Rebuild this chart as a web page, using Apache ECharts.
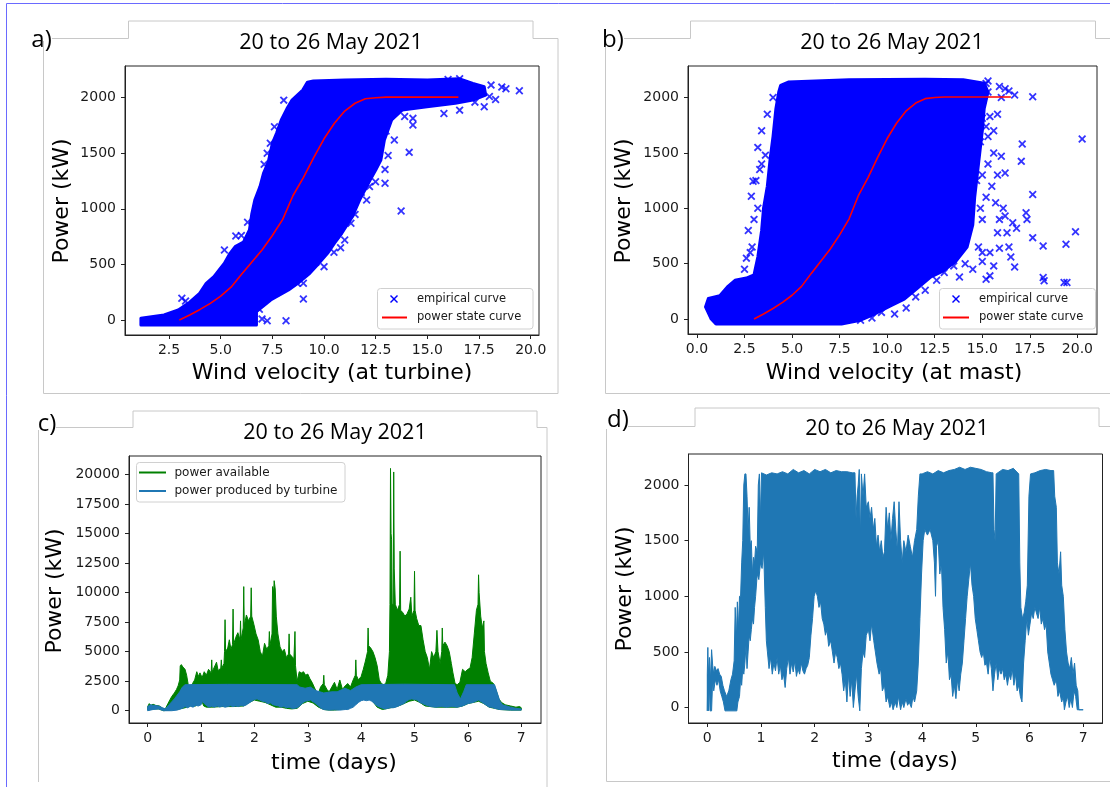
<!DOCTYPE html>
<html>
<head>
<meta charset="utf-8">
<script src="https://cdn.jsdelivr.net/npm/echarts@6/dist/echarts.min.js"></script>
<style>
  html, body { margin: 0; padding: 0; background: #fff; }
  #chart { width: 1110px; height: 787px; }
</style>
</head>
<body>
<div id="chart"></div>
<script>
// ---- panel titles / tick labels ----
const panelTitle = '20 to 26 May 2021';
const panelLetters = ['a)', 'b)', 'c)', 'd)'];
const windTicks = [2.5, 5.0, 7.5, 10.0, 12.5, 15.0, 17.5, 20.0];
const mastTicks = [0.0, 2.5, 5.0, 7.5, 10.0, 12.5, 15.0, 17.5, 20.0];
const powerTicks = [0, 500, 1000, 1500, 2000];
const dayTicks = [0, 1, 2, 3, 4, 5, 6, 7];
const availTicks = [0, 2500, 5000, 7500, 10000, 12500, 15000, 17500, 20000];

// ---- a) empirical cloud outline at turbine [wind m/s, kW] ----
const cloudTurbine = [
  [1.14, 15], [2.26, 45], [2.95, 90], [3.5, 160], [3.98, 240], [4.3, 330], [4.67, 390], [5.18, 510],
  [5.45, 600], [5.7, 660], [6.1, 700], [6.39, 810], [6.5, 950], [6.65, 1079], [6.9, 1200],
  [7.07, 1319], [7.3, 1420], [7.5, 1589], [7.7, 1680], [7.93, 1799], [8.2, 1900], [8.45, 1978],
  [8.97, 2068], [9.2, 2140], [9.48, 2150], [11, 2160], [13, 2165], [15, 2160], [16.53, 2170],
  [17.2, 2128], [17.75, 2098], [17.82, 2023], [17.2, 1978], [16.35, 1949], [14.98, 1918],
  [13.78, 1888], [13.27, 1799], [12.92, 1619], [12.75, 1439], [12.5, 1350], [12.23, 1259],
  [11.72, 1079], [11.37, 929], [10.86, 780], [10.5, 690], [10.17, 600], [9.7, 500], [9.31, 420],
  [8.8, 340], [8.28, 270], [7.42, 180], [6.73, 75], [6.73, -45], [1.14, -45]
];
// isolated samples around the turbine cloud
const scatterTurbine = [
  [13.73, 980], [14.12, 1508], [12.95, 1355], [12.95, 1230], [12.49, 1244], [12.06, 1079],
  [14.3, 1814], [14.3, 1754], [10.0, 480], [10.48, 609], [9.0, 189], [9.0, 330], [9.1, 435],
  [8.16, -6], [7.25, -6], [7.0, 10], [6.87, 96], [3.12, 195], [3.3, 170], [5.18, 630],
  [5.73, 755], [18.08, 2113], [18.6, 2095], [18.8, 2080], [19.45, 2062], [18.3, 1984],
  [17.75, 1918], [15.8, 1858], [16.56, 1888], [16.0, 2164], [16.56, 2170], [8.05, 1978],
  [7.6, 1738], [7.4, 1590], [11.5, 950], [11.3, 870], [11.0, 720], [10.8, 650], [11.8, 1150],
  [12.2, 1200], [13.1, 1480], [13.4, 1620], [13.0, 1700], [12.8, 1740], [6.3, 880], [6.0, 760],
  [7.1, 1400], [7.25, 1500], [9.6, 520], [8.7, 330], [13.9, 1830], [17.3, 1960], [18.0, 2010]
];

// ---- b) empirical cloud outline at mast ----
const cloudMast = [
  [0.45, 110], [0.6, 185], [1.2, 210], [1.6, 290], [2.0, 350], [2.6, 370], [3.0, 400], [3.2, 560],
  [3.4, 800], [3.5, 1000], [3.7, 1200], [3.85, 1450], [4.0, 1650], [4.15, 1900], [4.3, 2050],
  [4.4, 2110], [4.8, 2140], [8, 2160], [12, 2165], [14, 2160], [15.1, 2130], [15.3, 2050],
  [15.1, 1900], [15.0, 1700], [14.8, 1400], [14.6, 1100], [14.5, 850], [14.2, 650], [13.6, 520],
  [12.9, 430], [12.3, 380], [11.6, 280], [10.9, 180], [10.2, 120], [9.4, 50], [8.6, -10],
  [7.6, -45], [1.0, -45], [0.75, 0]
];
const scatterMast = [
  [3.2, 1550], [2.95, 1244], [2.86, 1109], [3.1, 1250], [3.4, 1400], [3.6, 1480], [3.3, 1350],
  [2.8, 600], [2.6, 550], [2.9, 650], [20.25, 1625], [19.9, 789], [19.4, 675], [17.65, 1124],
  [17.1, 1580], [17.05, 1424], [16.7, 470], [16.5, 560], [17.65, 2008], [16.7, 2023],
  [18.2, 660], [17.65, 735], [18.2, 375], [18.25, 345], [19.3, 330], [19.45, 330], [17.3, 960],
  [17.35, 900], [16.2, 1319], [16.0, 1470], [16.2, 930], [15.8, 780], [16.3, 780], [15.4, 600],
  [15.6, 480], [15.4, 390], [15.0, 600], [15.2, 360], [15.2, 2128], [15.3, 2150], [16.2, 2080],
  [15.3, 2050], [14.67, 1888], [15.0, 1813], [15.4, 1828], [15.2, 1738], [14.6, 1750],
  [15.3, 1648], [15.6, 1500], [15.8, 1300], [15.5, 1200], [15.7, 1050], [15.9, 900],
  [16.1, 1000], [16.6, 870], [16.8, 820], [16.4, 650], [15.9, 640], [15.0, 900], [15.2, 1100],
  [15.0, 1300], [15.3, 1400], [15.6, 1700], [15.8, 1850], [16.0, 2000], [16.4, 2060],
  [15.9, 2100], [10.39, 45], [11.0, 100], [11.5, 200], [12.0, 260], [12.6, 350], [13.0, 420],
  [13.5, 480], [14.1, 500], [14.5, 450], [15.0, 520], [14.8, 650], [13.8, 380], [9.2, 10],
  [9.7, 60], [8.6, -10], [3.0, 900], [3.2, 1000], [2.7, 800], [3.4, 1700], [3.7, 1850],
  [4.0, 2000], [2.5, 450], [14.9, 1000], [14.7, 1250], [14.9, 1600]
];

// ---- power state curve [wind m/s, kW] ----
const stateCurve = [
  [3.0, 0], [3.5, 45], [4.0, 95], [4.5, 150], [5.0, 215], [5.5, 295], [6.0, 410], [6.5, 520],
  [7.0, 630], [7.5, 760], [8.0, 905], [8.5, 1120], [9.0, 1280], [9.5, 1460], [10.0, 1630],
  [10.5, 1770], [11.0, 1880], [11.5, 1950], [12.0, 1990], [12.5, 2000], [13.0, 2005], [16.5, 2005]
];

// ---- c) power available (green) envelope [day, kW] ----
const availTop = [
  [0, 350], [0.03, 600], [0.06, 450], [0.1, 550], [0.15, 450], [0.22, 400], [0.28, 200], [0.33, 150],
  [0.38, 600], [0.45, 1200], [0.5, 1500], [0.54, 1800], [0.57, 2100], [0.6, 2600], [0.61, 3800],
  [0.63, 3900], [0.66, 3700], [0.7, 3500], [0.73, 3000], [0.76, 2200], [0.8, 2000], [0.84, 2300],
  [0.88, 2600], [0.92, 3300], [0.95, 2900], [0.98, 3200], [1.02, 2800], [1.06, 3300], [1.1, 3000],
  [1.14, 3500], [1.19, 3200], [1.2, 4300], [1.21, 3300], [1.25, 3700], [1.29, 4100], [1.32, 3400],
  [1.37, 3600], [1.38, 4300], [1.39, 3600], [1.43, 4000], [1.44, 5000], [1.45, 7700], [1.46, 5000],
  [1.5, 5300], [1.53, 6000], [1.56, 5200], [1.59, 5600], [1.6, 8600], [1.61, 5600], [1.65, 6200],
  [1.69, 6600], [1.73, 6000], [1.74, 7600], [1.75, 6000], [1.79, 7000], [1.8, 10500], [1.81, 7200],
  [1.85, 8100], [1.89, 7600], [1.93, 8000], [1.94, 10400], [1.95, 8000], [1.99, 7300], [2.03, 6500],
  [2.07, 6000], [2.11, 5000], [2.15, 4600], [2.19, 5700], [2.23, 5200], [2.27, 5500], [2.28, 6700],
  [2.29, 5500], [2.33, 6500], [2.34, 10500], [2.36, 10000], [2.37, 11000], [2.39, 10300],
  [2.41, 8000], [2.44, 6500], [2.48, 5400], [2.52, 5000], [2.56, 5200], [2.6, 4500], [2.64, 4800],
  [2.65, 6500], [2.66, 4800], [2.7, 4600], [2.74, 4400], [2.76, 6700], [2.77, 3800], [2.8, 2500],
  [2.84, 3300], [2.88, 3200], [2.92, 3300], [2.96, 3000], [3.0, 3100], [3.04, 2700], [3.08, 2400],
  [3.12, 2000], [3.16, 1600], [3.2, 1500], [3.24, 2000], [3.29, 2300], [3.3, 3000], [3.31, 2200],
  [3.36, 1800], [3.4, 1600], [3.45, 2000], [3.5, 2400], [3.55, 1800], [3.6, 2600], [3.65, 1800],
  [3.7, 2100], [3.75, 2300], [3.8, 2000], [3.85, 2600], [3.89, 3000], [3.9, 4300], [3.91, 3000],
  [3.95, 2600], [4.0, 2900], [4.04, 3500], [4.08, 4200], [4.12, 5000], [4.13, 7000], [4.14, 5500],
  [4.18, 5300], [4.22, 5000], [4.26, 4500], [4.3, 3800], [4.34, 2600], [4.38, 2300], [4.42, 2200],
  [4.46, 2300], [4.5, 3000], [4.53, 5000], [4.54, 9000], [4.55, 20500], [4.56, 15000],
  [4.57, 14500], [4.58, 9000], [4.6, 9000], [4.61, 20200], [4.62, 12000], [4.64, 9000],
  [4.68, 8500], [4.72, 9000], [4.73, 13500], [4.74, 8500], [4.78, 8300], [4.82, 8000],
  [4.86, 8200], [4.9, 8600], [4.93, 9600], [4.95, 8000], [4.99, 8500], [5.0, 11800], [5.01, 8500],
  [5.04, 7800], [5.08, 7200], [5.12, 7200], [5.16, 6000], [5.2, 5000], [5.24, 4500], [5.28, 3500],
  [5.32, 5000], [5.36, 4500], [5.4, 5000], [5.42, 6800], [5.44, 5000], [5.48, 4000], [5.51, 5000],
  [5.52, 7000], [5.53, 5500], [5.57, 5800], [5.61, 5500], [5.65, 5000], [5.69, 4000], [5.72, 3200],
  [5.76, 2300], [5.8, 2200], [5.85, 2400], [5.9, 3500], [5.95, 3300], [6.0, 3500], [6.04, 3600],
  [6.08, 4500], [6.12, 6500], [6.16, 8500], [6.19, 9000], [6.2, 11500], [6.21, 10000], [6.24, 8000],
  [6.27, 7000], [6.3, 7600], [6.31, 5000], [6.34, 4000], [6.38, 3200], [6.42, 2500], [6.48, 2300],
  [6.53, 1700], [6.58, 1000], [6.63, 700], [6.7, 500], [6.8, 400], [6.9, 300], [6.97, 350], [7.0, 250]
];
const availBottom = [
  [0, 50], [0.1, 150], [0.2, 150], [0.3, 0], [0.4, 50], [0.5, 100], [0.6, 150], [0.7, 250],
  [0.8, 400], [0.9, 400], [0.95, 600], [1.0, 1000], [1.05, 400], [1.1, 300], [1.2, 300],
  [1.4, 350], [1.6, 350], [1.8, 400], [1.9, 700], [2.0, 900], [2.1, 800], [2.2, 700], [2.3, 500],
  [2.4, 300], [2.5, 300], [2.6, 200], [2.7, 150], [2.8, 200], [2.9, 600], [3.0, 800], [3.1, 650],
  [3.2, 300], [3.3, 100], [3.4, 50], [3.5, 50], [3.6, 100], [3.7, 200], [3.8, 400], [3.9, 1000],
  [4.0, 1200], [4.1, 1100], [4.2, 900], [4.3, 300], [4.4, 100], [4.5, 200], [4.6, 300],
  [4.7, 400], [4.8, 600], [4.9, 800], [5.0, 900], [5.1, 700], [5.2, 400], [5.4, 300], [5.6, 300],
  [5.8, 300], [5.9, 400], [6.0, 600], [6.1, 700], [6.2, 800], [6.3, 600], [6.4, 300], [6.5, 200],
  [6.6, 100], [6.8, 50], [7.0, 50]
];
// ---- c) power produced (blue) envelope ----
const producedTop = [
  [0, 350], [0.05, 500], [0.12, 450], [0.2, 400], [0.28, 250], [0.33, 150], [0.4, 500], [0.5, 1000],
  [0.6, 1600], [0.65, 2000], [0.7, 2200], [1.5, 2230], [2.8, 2200], [2.85, 2000], [2.95, 1900],
  [3.05, 2000], [3.15, 1700], [3.3, 1500], [3.45, 1600], [3.55, 1600], [3.7, 1900], [3.8, 1700],
  [3.9, 2000], [4.0, 2200], [4.8, 2240], [5.75, 2200], [5.8, 1500], [5.86, 1000], [5.92, 1600],
  [5.97, 2200], [6.5, 2200], [6.55, 1500], [6.6, 800], [6.65, 500], [6.8, 300], [6.9, 200], [7.0, 150]
];
const producedBottom = [
  [0, 0], [0.1, 100], [0.2, 150], [0.3, 0], [0.45, 0], [0.55, 50], [0.65, 200], [0.7, 350],
  [0.75, 250], [0.8, 380], [0.85, 300], [0.9, 450], [0.95, 400], [1.0, 500], [1.03, 800],
  [1.06, 600], [1.1, 450], [1.15, 300], [1.2, 380], [1.25, 300], [1.3, 400], [1.35, 320],
  [1.4, 380], [1.45, 300], [1.5, 350], [1.55, 420], [1.6, 350], [1.65, 400], [1.7, 350],
  [1.75, 450], [1.8, 400], [1.85, 500], [1.9, 650], [1.95, 800], [2.0, 950], [2.05, 1000],
  [2.1, 900], [2.15, 800], [2.2, 750], [2.25, 600], [2.3, 650], [2.35, 500], [2.4, 450],
  [2.45, 400], [2.5, 300], [2.55, 350], [2.6, 250], [2.65, 300], [2.7, 200], [2.75, 200],
  [2.8, 250], [2.85, 400], [2.9, 650], [2.95, 800], [3.0, 850], [3.05, 900], [3.1, 750],
  [3.15, 600], [3.2, 400], [3.25, 200], [3.3, 100], [3.4, 50], [3.5, 80], [3.6, 50], [3.7, 100],
  [3.75, 100], [3.8, 200], [3.85, 300], [3.9, 500], [3.95, 700], [4.0, 850], [4.05, 900],
  [4.1, 850], [4.15, 900], [4.2, 800], [4.25, 600], [4.3, 400], [4.35, 300], [4.4, 200],
  [4.45, 150], [4.5, 200], [4.55, 250], [4.6, 250], [4.65, 300], [4.7, 400], [4.75, 500],
  [4.8, 600], [4.85, 800], [4.9, 950], [4.95, 1000], [5.0, 950], [5.05, 900], [5.1, 700],
  [5.15, 600], [5.2, 500], [5.3, 350], [5.4, 300], [5.5, 350], [5.6, 300], [5.7, 350], [5.8, 300],
  [5.85, 350], [5.9, 400], [5.95, 500], [6.0, 600], [6.05, 650], [6.1, 700], [6.15, 800],
  [6.2, 900], [6.25, 750], [6.3, 600], [6.35, 450], [6.4, 300], [6.45, 300], [6.5, 200],
  [6.6, 100], [6.7, 80], [6.8, 50], [7.0, 50]
];

// ---- d) turbine output envelope [day, kW] ----
const outputTop = [
  [0, 300], [0.01, 540], [0.02, 300], [0.04, 450], [0.06, 250], [0.08, 520], [0.1, 380], [0.12, 300],
  [0.14, 370], [0.17, 330], [0.2, 350], [0.23, 300], [0.26, 280], [0.29, 200], [0.32, 150],
  [0.36, 100], [0.4, 150], [0.44, 250], [0.47, 300], [0.5, 420], [0.52, 900], [0.54, 600],
  [0.56, 950], [0.58, 700], [0.6, 1000], [0.62, 1000], [0.64, 1300], [0.66, 1500], [0.68, 2000],
  [0.7, 2100], [0.72, 2100], [0.74, 1900], [0.76, 1600], [0.78, 1800], [0.8, 1450], [0.82, 1500],
  [0.84, 1200], [0.86, 1350], [0.88, 1300], [0.9, 1450], [0.93, 1400], [0.95, 2000], [0.97, 2100],
  [0.99, 1700], [1.01, 2110], [1.1, 2090], [1.2, 2110], [1.3, 2100], [1.4, 2120], [1.5, 2100],
  [1.6, 2140], [1.7, 2110], [1.8, 2130], [1.9, 2100], [2.0, 2140], [2.1, 2120], [2.2, 2140],
  [2.3, 2110], [2.4, 2130], [2.5, 2120], [2.6, 2120], [2.7, 2110], [2.75, 2110], [2.77, 1700],
  [2.79, 1900], [2.81, 2000], [2.83, 2140], [2.85, 1500], [2.87, 2100], [2.9, 1900], [2.93, 2100],
  [2.96, 1800], [3.0, 1850], [3.03, 1700], [3.06, 1800], [3.09, 1600], [3.12, 1700], [3.15, 1450],
  [3.18, 1550], [3.21, 1400], [3.24, 1500], [3.27, 1350], [3.3, 1400], [3.33, 1800], [3.36, 1600],
  [3.39, 1750], [3.42, 1500], [3.45, 1700], [3.48, 1850], [3.51, 1600], [3.54, 1400], [3.57, 1850],
  [3.6, 1500], [3.63, 1300], [3.66, 1500], [3.7, 1400], [3.74, 1550], [3.78, 1450], [3.82, 1350],
  [3.86, 1500], [3.9, 1600], [3.93, 1900], [3.96, 2100], [4.0, 2100], [4.1, 2120], [4.2, 2100],
  [4.3, 2130], [4.4, 2110], [4.5, 2130], [4.6, 2140], [4.7, 2160], [4.8, 2140], [4.9, 2160],
  [5.0, 2150], [5.1, 2140], [5.2, 2120], [5.3, 2110], [5.32, 2110], [5.34, 1600], [5.36, 1500],
  [5.38, 2100], [5.5, 2140], [5.6, 2130], [5.7, 2150], [5.8, 2100], [5.82, 1300], [5.84, 900],
  [5.87, 800], [5.9, 850], [5.93, 950], [5.96, 1100], [5.99, 1900], [6.02, 2100], [6.1, 2110],
  [6.2, 2130], [6.3, 2140], [6.4, 2130], [6.45, 2130], [6.47, 1900], [6.5, 1800], [6.52, 1300],
  [6.55, 1200], [6.58, 1400], [6.6, 1100], [6.63, 1000], [6.66, 700], [6.69, 500], [6.72, 400],
  [6.75, 350], [6.78, 450], [6.81, 300], [6.84, 400], [6.87, 200], [6.9, 150], [6.92, -20], [7.0, -20]
];
const outputBottom = [
  [0, -30], [0.01, 300], [0.02, -30], [0.04, 200], [0.05, -30], [0.08, -30], [0.1, 250], [0.12, 150],
  [0.15, 250], [0.18, 200], [0.21, 250], [0.24, 150], [0.27, 100], [0.3, 50], [0.33, -30],
  [0.55, -30], [0.57, 50], [0.6, 100], [0.62, 250], [0.64, 200], [0.66, 350], [0.68, 300],
  [0.7, 400], [0.72, 550], [0.74, 350], [0.76, 500], [0.78, 650], [0.8, 600], [0.82, 700],
  [0.84, 800], [0.86, 750], [0.88, 900], [0.9, 1000], [0.93, 1200], [0.96, 1150], [0.99, 1300],
  [1.02, 1250], [1.05, 1400], [1.08, 900], [1.1, 600], [1.12, 500], [1.15, 350], [1.18, 450],
  [1.21, 300], [1.24, 400], [1.27, 330], [1.3, 450], [1.33, 300], [1.36, 380], [1.39, 250],
  [1.42, 300], [1.45, 180], [1.48, 350], [1.51, 450], [1.54, 300], [1.57, 400], [1.6, 320],
  [1.63, 420], [1.66, 280], [1.69, 350], [1.72, 300], [1.75, 400], [1.78, 330], [1.81, 300],
  [1.84, 350], [1.87, 380], [1.9, 450], [1.93, 650], [1.96, 800], [1.99, 1000], [2.02, 1050],
  [2.05, 1000], [2.08, 900], [2.11, 950], [2.14, 800], [2.17, 750], [2.2, 650], [2.23, 700],
  [2.26, 550], [2.3, 600], [2.33, 500], [2.36, 400], [2.39, 500], [2.42, 450], [2.45, 350],
  [2.48, 400], [2.51, 300], [2.54, 150], [2.57, 250], [2.6, 50], [2.63, 300], [2.66, 100],
  [2.69, 250], [2.72, 0], [2.75, 150], [2.78, 300], [2.81, 100], [2.84, -30], [2.87, 350],
  [2.9, 500], [2.93, 450], [2.96, 650], [3.0, 700], [3.03, 600], [3.06, 750], [3.1, 600],
  [3.13, 500], [3.16, 400], [3.2, 300], [3.23, 350], [3.26, 150], [3.3, 200], [3.33, 50],
  [3.36, 100], [3.4, 0], [3.43, 50], [3.46, -20], [3.5, 50], [3.53, 0], [3.56, 100], [3.6, -20],
  [3.63, 50], [3.66, 0], [3.7, 80], [3.73, 20], [3.76, 50], [3.8, 0], [3.83, 100], [3.86, 50],
  [3.9, 150], [3.93, 400], [3.96, 800], [3.99, 1200], [4.02, 1500], [4.05, 1600], [4.1, 1550],
  [4.15, 1600], [4.2, 1500], [4.23, 1300], [4.25, 1000], [4.27, 1450], [4.3, 1500], [4.33, 1200],
  [4.36, 1300], [4.39, 900], [4.42, 700], [4.45, 400], [4.48, 500], [4.51, 250], [4.54, 300],
  [4.57, 100], [4.6, 200], [4.63, 80], [4.66, 250], [4.69, 150], [4.72, 300], [4.75, 400],
  [4.78, 600], [4.81, 800], [4.84, 1000], [4.87, 1150], [4.9, 1300], [4.93, 1100], [4.96, 1000],
  [4.99, 800], [5.02, 700], [5.05, 600], [5.08, 500], [5.11, 450], [5.14, 500], [5.17, 380],
  [5.2, 400], [5.23, 300], [5.26, 450], [5.29, 350], [5.32, 150], [5.35, 300], [5.38, 400],
  [5.41, 250], [5.44, 350], [5.47, 300], [5.5, 350], [5.53, 250], [5.56, 300], [5.59, 200],
  [5.62, 300], [5.65, 250], [5.68, 350], [5.71, 200], [5.74, 300], [5.77, 150], [5.8, 200],
  [5.83, 100], [5.86, 50], [5.89, 400], [5.92, 600], [5.95, 800], [5.98, 650], [6.01, 750],
  [6.04, 850], [6.07, 800], [6.1, 900], [6.13, 850], [6.16, 800], [6.19, 900], [6.22, 750],
  [6.25, 800], [6.28, 700], [6.31, 750], [6.34, 500], [6.37, 400], [6.4, 300], [6.43, 250],
  [6.46, 200], [6.5, 250], [6.53, 100], [6.56, 150], [6.6, 50], [6.63, 100], [6.65, -20],
  [6.68, 50], [6.71, 100], [6.74, 0], [6.77, 80], [6.8, 0], [6.83, 150], [6.86, 100], [6.89, -20],
  [7.0, -20]
];

// ---------------------------------------------------------------
const TICK_FONT = 'DejaVu Sans';
const TITLE_FONT = '"Open Sans", "Noto Sans", sans-serif';
const INK = '#1a1a1a';
const CROSS = 'path://M0,1.6L1.6,0L5,3.4L8.4,0L10,1.6L6.6,5L10,8.4L8.4,10L5,6.6L1.6,10L0,8.4L3.4,5Z';

const grids = [
  { left: 125, top: 66, width: 414, height: 269 },
  { left: 688, top: 66, width: 409, height: 268 },
  { left: 129, top: 456, width: 412, height: 267 },
  { left: 688.5, top: 454, width: 414, height: 269 }
].map(g => Object.assign({ show: true, borderColor: '#222', borderWidth: 1, backgroundColor: 'transparent' }, g));

function xAxisOf(i, min, max, ticks, fmt) {
  return {
    type: 'value', gridIndex: i, min, max,
    axisLine: { show: true, onZero: false, lineStyle: { color: '#222', width: 1 } },
    splitLine: { show: false },
    axisTick: { show: true, customValues: ticks, length: 4, lineStyle: { color: '#222' } },
    axisLabel: { customValues: ticks, formatter: fmt, fontFamily: TICK_FONT, fontSize: 14, color: INK, margin: 8 }
  };
}
function yAxisOf(i, min, max, ticks) {
  return {
    type: 'value', gridIndex: i, min, max,
    axisLine: { show: true, onZero: false, lineStyle: { color: '#222', width: 1 } },
    splitLine: { show: false },
    axisTick: { show: true, customValues: ticks, length: 4, lineStyle: { color: '#222' } },
    axisLabel: { customValues: ticks, formatter: v => String(v), fontFamily: TICK_FONT, fontSize: 14, color: INK, margin: 9 }
  };
}
const oneDecimal = v => v.toFixed(1);
const integer = v => String(v);

// filled outline drawn through the axis scales
function outlineSeries(i, pts, color, strokeW) {
  return {
    type: 'custom', xAxisIndex: i, yAxisIndex: i, data: pts, encode: { x: 0, y: 1 },
    clip: true, silent: true, z: 2,
    renderItem(params, api) {
      if (params.dataIndex !== 0) return null;
      return {
        type: 'polygon',
        shape: { points: pts.map(p => api.coord(p)) },
        style: { fill: color, stroke: color, lineWidth: strokeW, lineJoin: 'round' }
      };
    }
  };
}
function bandSeries(i, upper, lower, color, z) {
  const s = outlineSeries(i, upper.concat(lower.slice().reverse()), color, 1);
  s.z = z;
  return s;
}
function crossSeries(i, pts) {
  return {
    type: 'scatter', xAxisIndex: i, yAxisIndex: i, data: pts, symbol: CROSS, symbolSize: 8,
    itemStyle: { color: '#0000ff' }, silent: true, z: 3
  };
}
function curveSeries(i) {
  return {
    type: 'line', xAxisIndex: i, yAxisIndex: i, data: stateCurve, showSymbol: false,
    lineStyle: { color: '#ff0000', width: 1.6 }, silent: true, z: 4
  };
}

// ---- frames, labels and legends ----
const FRAME = '#c8c8c8';
function poly(points, color) {
  return { type: 'polyline', shape: { points }, style: { stroke: color || FRAME, lineWidth: 1, fill: null }, silent: true };
}
function text(str, x, y, font, opts) {
  return Object.assign({
    type: 'text', x, y, silent: true,
    style: { text: str, x: 0, y: 0, font, fill: '#000', align: 'center', verticalAlign: 'middle', textAlign: 'center', textVerticalAlign: 'middle' }
  }, opts || {});
}
function vtext(str, x, y, font) {
  return text(str, x, y, font, { rotation: Math.PI / 2 });
}
function legendBox(x, y, w, h) {
  return { type: 'rect', shape: { x, y, width: w, height: h, r: 3 }, style: { fill: 'rgba(255,255,255,0.85)', stroke: '#d0d0d0', lineWidth: 1 }, silent: true, z: 10 };
}
function legendText(str, x, y, size) {
  return { type: 'text', x, y, silent: true, z: 11,
    style: { text: str, x: 0, y: 0, font: size + 'px "DejaVu Sans"', fill: INK, align: 'left', verticalAlign: 'middle', textAlign: 'left', textVerticalAlign: 'middle' } };
}
function legendLine(x1, x2, y, color) {
  return { type: 'line', shape: { x1, y1: y, x2, y2: y }, style: { stroke: color, lineWidth: 2 }, silent: true, z: 11 };
}
function legendCross(cx, cy) {
  const r = 3.5;
  return { type: 'group', z: 11, silent: true, children: [
    { type: 'line', shape: { x1: cx - r, y1: cy - r, x2: cx + r, y2: cy + r }, style: { stroke: '#0000ff', lineWidth: 1.4 }, z: 11 },
    { type: 'line', shape: { x1: cx - r, y1: cy + r, x2: cx + r, y2: cy - r }, style: { stroke: '#0000ff', lineWidth: 1.4 }, z: 11 }
  ] };
}

const TITLE = '21.5px ' + TITLE_FONT;
const LETTER = '24px ' + TITLE_FONT;
const LABEL = '22px "DejaVu Sans"';

const graphics = [
  // page border
  poly([[6.5, 787], [6.5, 3.5], [1110, 3.5]], '#6a6aff'),
  // panel frames
  poly([[52, 38.5], [128.5, 38.5], [128.5, 21], [533, 21], [533, 38.5], [558, 38.5], [558, 393.5], [43.5, 393.5], [43.5, 41]]),
  poly([[624, 38.5], [690.5, 38.5], [690.5, 21], [1095.5, 21], [1095.5, 38.5], [1110, 38.5]]),
  poly([[605.5, 41], [605.5, 393.5], [1110, 393.5]]),
  poly([[56, 427.5], [133, 427.5], [133, 411], [537, 411], [537, 427.5], [547, 427.5], [547, 787]]),
  poly([[38.5, 430], [38.5, 782]]),
  poly([[628, 426.5], [695, 426.5], [695, 408], [1099, 408], [1099, 426.5], [1110, 426.5]]),
  poly([[606.5, 429], [606.5, 781.5], [1110, 781.5]]),
  // panel letters
  text(panelLetters[0], 41.5, 40, LETTER),
  text(panelLetters[1], 613, 40, LETTER),
  text(panelLetters[2], 47, 424, LETTER),
  text(panelLetters[3], 618, 420, LETTER),
  // titles
  text(panelTitle, 331, 43, TITLE),
  text(panelTitle, 892, 43, TITLE),
  text(panelTitle, 335, 433, TITLE),
  text(panelTitle, 897, 429, TITLE),
  // axis names
  vtext('Power (kW)', 62.5, 201, LABEL),
  vtext('Power (kW)', 624, 201, LABEL),
  vtext('Power (kW)', 55.5, 591, LABEL),
  vtext('Power (kW)', 625, 589, LABEL),
  text('Wind velocity (at turbine)', 332, 373, LABEL),
  text('Wind velocity (at mast)', 894, 373, LABEL),
  text('time (days)', 334, 763, LABEL),
  text('time (days)', 895, 761, LABEL),
  // legend a
  legendBox(377.5, 288.5, 155.5, 40.5),
  legendCross(394, 299),
  legendText('empirical curve', 417, 299, 11.5),
  legendLine(382, 407, 317.5, '#ff0000'),
  legendText('power state curve', 417, 317.5, 11.5),
  // legend b
  legendBox(939.5, 288.5, 156, 40.5),
  legendCross(956, 299),
  legendText('empirical curve', 979, 299, 11.5),
  legendLine(943, 969, 317.5, '#ff0000'),
  legendText('power state curve', 979, 317.5, 11.5),
  // legend c
  legendBox(136.5, 462.5, 208.5, 39.5),
  legendLine(139, 166, 472.5, '#008000'),
  legendText('power available', 174.5, 472.5, 12),
  legendLine(139, 166, 491, '#1f77b4'),
  legendText('power produced by turbine', 174.5, 491, 12)
];

const option = {
  animation: false,
  backgroundColor: '#ffffff',
  grid: grids,
  xAxis: [
    xAxisOf(0, 0.37, 20.4, windTicks, oneDecimal),
    xAxisOf(1, -0.47, 21.03, mastTicks, oneDecimal),
    xAxisOf(2, -0.35, 7.37, dayTicks, integer),
    xAxisOf(3, -0.35, 7.36, dayTicks, integer)
  ],
  yAxis: [
    yAxisOf(0, -135, 2285, powerTicks),
    yAxisOf(1, -135, 2285, powerTicks),
    yAxisOf(2, -1040, 21550, availTicks),
    yAxisOf(3, -139, 2279, powerTicks)
  ],
  series: [
    outlineSeries(0, cloudTurbine, '#0000ff', 3),
    crossSeries(0, scatterTurbine),
    curveSeries(0),
    outlineSeries(1, cloudMast, '#0000ff', 3),
    crossSeries(1, scatterMast),
    curveSeries(1),
    bandSeries(2, availTop, availBottom, '#008000', 2),
    bandSeries(2, producedTop, producedBottom, '#1f77b4', 3),
    bandSeries(3, outputTop, outputBottom, '#1f77b4', 2)
  ],
  graphic: { elements: graphics }
};

const chart = echarts.init(document.getElementById('chart'), null, { renderer: 'canvas' });
chart.setOption(option);
</script>
</body>
</html>
